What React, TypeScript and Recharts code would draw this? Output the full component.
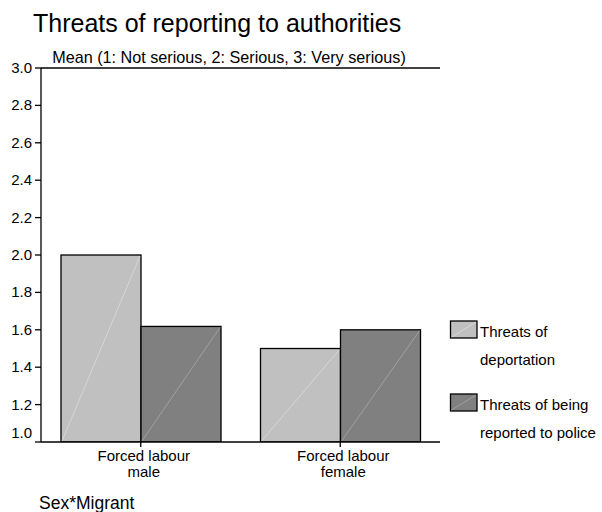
import { Bar, BarChart, ReferenceLine, XAxis, YAxis } from "recharts";

const categories = ["Forced labour\nmale", "Forced labour\nfemale"];
const deportation = [2.0, 1.5];
const reportedToPolice = [1.618, 1.6];
const yTicks = [1.0, 1.2, 1.4, 1.6, 1.8, 2.0, 2.2, 2.4, 2.6, 2.8, 3.0];

const FONT = "'Liberation Sans', Arial, sans-serif";

const data = categories.map((c, i) => ({
  name: c,
  deport: deportation[i],
  police: reportedToPolice[i],
}));

const seriesStyle = [
  { key: "deport", fill: "#c0c0c0", diag: "#dcdcdc", label: ["Threats of", "deportation"] },
  { key: "police", fill: "#808080", diag: "#a8a8a8", label: ["Threats of being", "reported to police"] },
];

function makeShape(fill: string, diag: string) {
  return (props: any) => {
    const { x, y, width, height } = props;
    if (width == null || height == null) return null;
    return (
      <g>
        <rect x={x} y={y} width={width} height={height} fill={fill} stroke="#000" strokeWidth={1.3} />
        <line x1={x + 1} y1={y + height - 1} x2={x + width - 1} y2={y + 1} stroke={diag} strokeWidth={0.8} />
      </g>
    );
  };
}

function YTick(props: any) {
  const { x, y, payload } = props;
  const v = payload.value as number;
  const dy = v === 1.0 ? -4 : 5;
  return (
    <text x={x - 1} y={y + dy} textAnchor="end" fontSize={15} fontFamily={FONT} fill="#000">
      {v.toFixed(1)}
    </text>
  );
}

function XTick(props: any) {
  const { x, y, payload } = props;
  const lines = String(payload.value).split("\n");
  return (
    <g>
      {lines.map((l, i) => (
        <text key={i} x={x + 3} y={y + 12 + i * 16} textAnchor="middle" fontSize={15} fontFamily={FONT} fill="#000">
          {l}
        </text>
      ))}
    </g>
  );
}

function Overlay() {
  return (
    <svg width={602} height={512} style={{ position: "absolute", left: 0, top: 0, pointerEvents: "none" }}>
      <text x={33} y={32} fontSize={25} fontFamily={FONT} fill="#000">
        Threats of reporting to authorities
      </text>
      <text x={229} y={63} fontSize={16.2} fontFamily={FONT} fill="#000" textAnchor="middle">
        Mean (1: Not serious, 2: Serious, 3: Very serious)
      </text>
      <text x={39} y={509} fontSize={17.5} fontFamily={FONT} fill="#000">
        Sex*Migrant
      </text>
      {seriesStyle.map((s, i) => {
        const top = 321 + i * 73;
        return (
          <g key={s.key}>
            <rect x={450.5} y={top} width={26.5} height={17} fill={s.fill} stroke="#000" strokeWidth={1.3} />
            <line x1={451.5} y1={top + 16} x2={476} y2={top + 1} stroke={s.diag} strokeWidth={0.8} />
            <text x={480} y={top + 16} fontSize={15} fontFamily={FONT} fill="#000">
              {s.label[0]}
            </text>
            <text x={480} y={top + 44} fontSize={15} fontFamily={FONT} fill="#000">
              {s.label[1]}
            </text>
          </g>
        );
      })}
    </svg>
  );
}

export default function App() {
  return (
    <div style={{ position: "absolute", left: 0, top: 0, width: 602, height: 512, background: "#fff", fontFamily: FONT }}>
      <BarChart
        width={602}
        height={512}
        data={data}
        margin={{ top: 68, right: 162, bottom: 40, left: 0 }}
        barCategoryGap={20}
        barGap={0}
      >
        <XAxis
          dataKey="name"
          height={30}
          interval={0}
          tick={<XTick />}
          tickSize={5}
          axisLine={{ stroke: "#000", strokeWidth: 1.3 }}
          tickLine={{ stroke: "#000", strokeWidth: 1.3 }}
        />
        <YAxis
          width={41}
          domain={[1, 3]}
          ticks={yTicks}
          allowDataOverflow
          tick={<YTick />}
          tickSize={6}
          axisLine={{ stroke: "#000", strokeWidth: 1.3 }}
          tickLine={{ stroke: "#000", strokeWidth: 1.3 }}
        />
        <YAxis
          yAxisId="right"
          orientation="right"
          width={0}
          domain={[1, 3]}
          tick={false}
          tickLine={false}
          axisLine={{ stroke: "#000", strokeWidth: 1.3 }}
        />
        <ReferenceLine y={3} stroke="#000" strokeWidth={1.3} />
        <Bar dataKey="deport" isAnimationActive={false} shape={makeShape(seriesStyle[0].fill, seriesStyle[0].diag)} />
        <Bar dataKey="police" isAnimationActive={false} shape={makeShape(seriesStyle[1].fill, seriesStyle[1].diag)} />
      </BarChart>
      <Overlay />
    </div>
  );
}
